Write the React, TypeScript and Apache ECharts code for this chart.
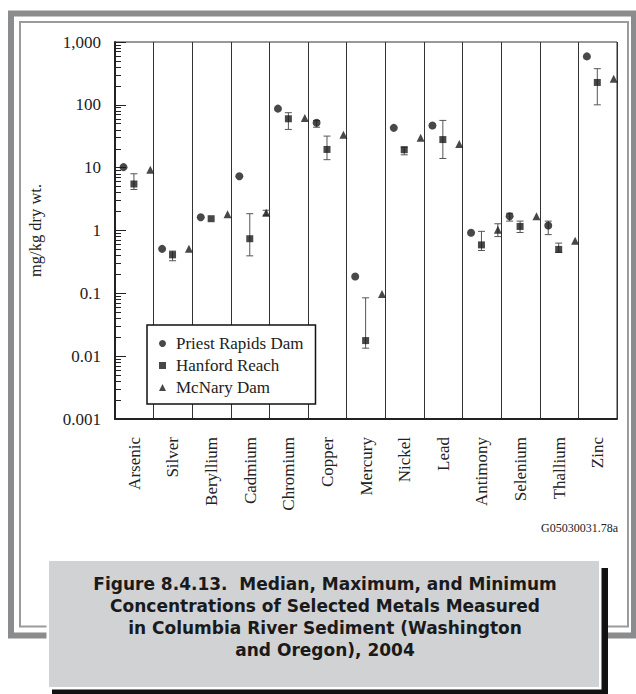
import React, { useEffect, useRef } from "react";
import * as echarts from "echarts";

// ---------- data ----------
const metals = [
  "Arsenic", "Silver", "Beryllium", "Cadmium", "Chromium", "Copper", "Mercury",
  "Nickel", "Lead", "Antimony", "Selenium", "Thallium", "Zinc",
];
const yTickLabels = ["0.001", "0.01", "0.1", "1", "10", "100", "1,000"];

// Priest Rapids Dam (circle)
const priestMedian = [10.2, 0.51, 1.63, 7.3, 87, 52, 0.185, 43, 47, 0.92, 1.69, 1.2, 590];
const priestMin = [null, null, null, null, null, 44, null, null, null, null, 1.41, 0.86, null];
const priestMax = [null, null, null, null, null, 56, null, null, null, null, 1.88, 1.41, null];

// Hanford Reach (square)
const hanfordMedian = [5.5, 0.41, 1.54, 0.74, 60, 19.5, 0.0177, 19.3, 28, 0.59, 1.16, 0.5, 227];
const hanfordMin = [4.5, 0.33, null, 0.395, 40.6, 13.4, 0.0134, 16, 14, 0.48, 0.93, 0.45, 100];
const hanfordMax = [8, 0.47, null, 1.85, 75, 31.8, 0.0848, 21.2, 56.5, 0.97, 1.41, 0.63, 376];

// McNary Dam (triangle)
const mcnaryMedian = [9.3, 0.51, 1.82, 1.91, 62, 33.4, 0.098, 30, 23.7, 1.03, 1.69, 0.69, 260];
const mcnaryMin = [null, null, null, 1.75, null, null, null, null, null, 0.8, null, null, null];
const mcnaryMax = [null, null, null, 2.1, null, null, null, null, null, 1.28, null, null, null];

const seriesNames = ["Priest Rapids Dam", "Hanford Reach", "McNary Dam"];
const captionLines = [
  "Figure 8.4.13.  Median, Maximum, and Minimum",
  "Concentrations of Selected Metals Measured",
  "in Columbia River Sediment (Washington",
  "and Oregon), 2004",
];
const figureId = "G05030031.78a";

// ---------- styling constants ----------
const OFFSETS = [0.22, 0.49, 0.915];
const SYMBOLS = ["circle", "rect", "triangle"];
const SIZES = [8, 7, 8];
const SERIF = '"Liberation Serif", "Times New Roman", serif';
const INK = "#1a1a1a";

function pointData(med: (number | null)[], off: number) {
  return med.map((v, i) => [i + off, v]);
}
function barData(mn: (number | null)[], mx: (number | null)[], off: number) {
  const out: number[][] = [];
  mn.forEach((v, i) => {
    const hi = mx[i];
    if (v != null && hi != null) out.push([i + off, v, hi]);
  });
  return out;
}

function errorRender(params: any, api: any) {
  const x = api.value(0);
  const lo = api.coord([x, api.value(1)]);
  const hi = api.coord([x, api.value(2)]);
  const cap = 3.5;
  const style = { stroke: "#555", lineWidth: 1 };
  return {
    type: "group",
    children: [
      { type: "line", shape: { x1: lo[0], y1: lo[1], x2: hi[0], y2: hi[1] }, style },
      { type: "line", shape: { x1: lo[0] - cap, y1: lo[1], x2: lo[0] + cap, y2: lo[1] }, style },
      { type: "line", shape: { x1: hi[0] - cap, y1: hi[1], x2: hi[0] + cap, y2: hi[1] }, style },
    ],
  };
}

export default function App() {
  const ref = useRef<HTMLDivElement>(null);
  useEffect(() => {
    if (!ref.current) return;
    const chart = echarts.init(ref.current, undefined, { renderer: "svg" });
    const medians = [priestMedian, hanfordMedian, mcnaryMedian];
    const mins = [priestMin, hanfordMin, mcnaryMin];
    const maxs = [priestMax, hanfordMax, mcnaryMax];

    const series: any[] = [];
    for (let s = 0; s < 3; s++) {
      series.push({
        type: "custom",
        name: seriesNames[s] + " range",
        xAxisIndex: 0,
        yAxisIndex: 0,
        renderItem: errorRender,
        data: barData(mins[s], maxs[s], OFFSETS[s]),
        z: 1,
        silent: true,
      });
    }
    for (let s = 0; s < 3; s++) {
      series.push({
        type: "scatter",
        name: seriesNames[s],
        xAxisIndex: 0,
        yAxisIndex: 0,
        symbol: SYMBOLS[s],
        symbolSize: SIZES[s],
        itemStyle: { color: INK },
        data: pointData(medians[s], OFFSETS[s]),
        z: 3,
      });
    }

    const option: any = {
      animation: false,
      backgroundColor: "#ffffff",
      textStyle: { fontFamily: SERIF },
      grid: {
        left: 115,
        top: 42,
        right: 19,
        bottom: 275,
        show: true,
        borderColor: "#333",
        borderWidth: 1,
      },
      xAxis: [
        {
          type: "value",
          min: 0,
          max: metals.length,
          interval: 1,
          position: "bottom",
          axisLine: { show: true, lineStyle: { color: "#222", width: 2 } },
          axisTick: { show: false },
          axisLabel: { show: false },
          splitLine: { show: true, lineStyle: { color: "#333", width: 1 } },
        },
        {
          type: "category",
          data: metals,
          position: "bottom",
          offset: 0,
          boundaryGap: true,
          axisLine: { show: false },
          axisTick: { show: false },
          splitLine: { show: false },
          axisLabel: {
            rotate: 90,
            margin: 18,
            interval: 0,
            fontSize: 17,
            fontFamily: SERIF,
            color: "#222",
          },
        },
      ],
      yAxis: {
        type: "log",
        logBase: 10,
        min: 0.001,
        max: 1000,
        name: "mg/kg dry wt.",
        nameLocation: "middle",
        nameRotate: 90,
        nameGap: 71,
        nameTextStyle: { fontSize: 16.5, fontFamily: SERIF, color: "#222" },
        axisLine: { show: true, lineStyle: { color: "#222", width: 2 } },
        axisTick: { show: true, inside: true, length: 11, lineStyle: { color: "#222" } },
        minorTick: { show: true, splitNumber: 9, length: 6, lineStyle: { color: "#222" } },
        splitLine: { show: false },
        axisLabel: {
          fontSize: 17,
          fontFamily: SERIF,
          color: "#222",
          margin: 14,
          formatter: (v: number) => yTickLabels[Math.round(Math.log10(v)) + 3],
        },
      },
      legend: {
        data: seriesNames,
        orient: "vertical",
        left: 147,
        top: 325,
        padding: [10, 12, 8, 12],
        itemWidth: 7,
        itemHeight: 7,
        itemGap: 5,
        backgroundColor: "#fff",
        borderColor: "#111",
        borderWidth: 1.5,
        borderRadius: 0,
        selectedMode: false,
        textStyle: {
          fontSize: 17,
          fontFamily: SERIF,
          color: "#222",
          padding: [0, 0, 0, 5],
        },
      },
      graphic: [
        {
          type: "rect",
          shape: { x: 11, y: 13.5, width: 623, height: 622 },
          style: { fill: "none", stroke: "#8b8c8e", lineWidth: 6 },
          z: 0,
        },
        {
          type: "rect",
          shape: { x: 20, y: 22, width: 608, height: 604.5 },
          style: { fill: "none", stroke: "#9b9b9b", lineWidth: 2 },
          z: 0,
        },
        {
          type: "text",
          x: 618,
          y: 528,
          style: {
            text: figureId,
            font: `12px ${SERIF}`,
            fill: "#222",
            align: "right",
            verticalAlign: "middle",
          },
        },
        {
          type: "rect",
          shape: { x: 52, y: 568, width: 556, height: 130 },
          style: { fill: "#111" },
          z: 10,
        },
        {
          type: "rect",
          shape: { x: 46.5, y: 558.5, width: 555, height: 131 },
          style: { fill: "#fff" },
          z: 11,
        },
        {
          type: "rect",
          shape: { x: 49, y: 561, width: 550, height: 126 },
          style: { fill: "#d1d2d4" },
          z: 12,
        },
        ...captionLines.map((t, i) => ({
          type: "text",
          x: 325,
          y: 584 + i * 22,
          z: 13,
          style: {
            text: t,
            font: 'bold 17px "DejaVu Sans", sans-serif',
            fill: "#1a1a1a",
            align: "center",
            verticalAlign: "middle",
          },
        })),
      ],
      series,
    };
    chart.setOption(option);
    return () => chart.dispose();
  }, []);
  return (
    <div
      ref={ref}
      style={{ position: "absolute", left: 0, top: 0, width: 636, height: 694 }}
    />
  );
}
